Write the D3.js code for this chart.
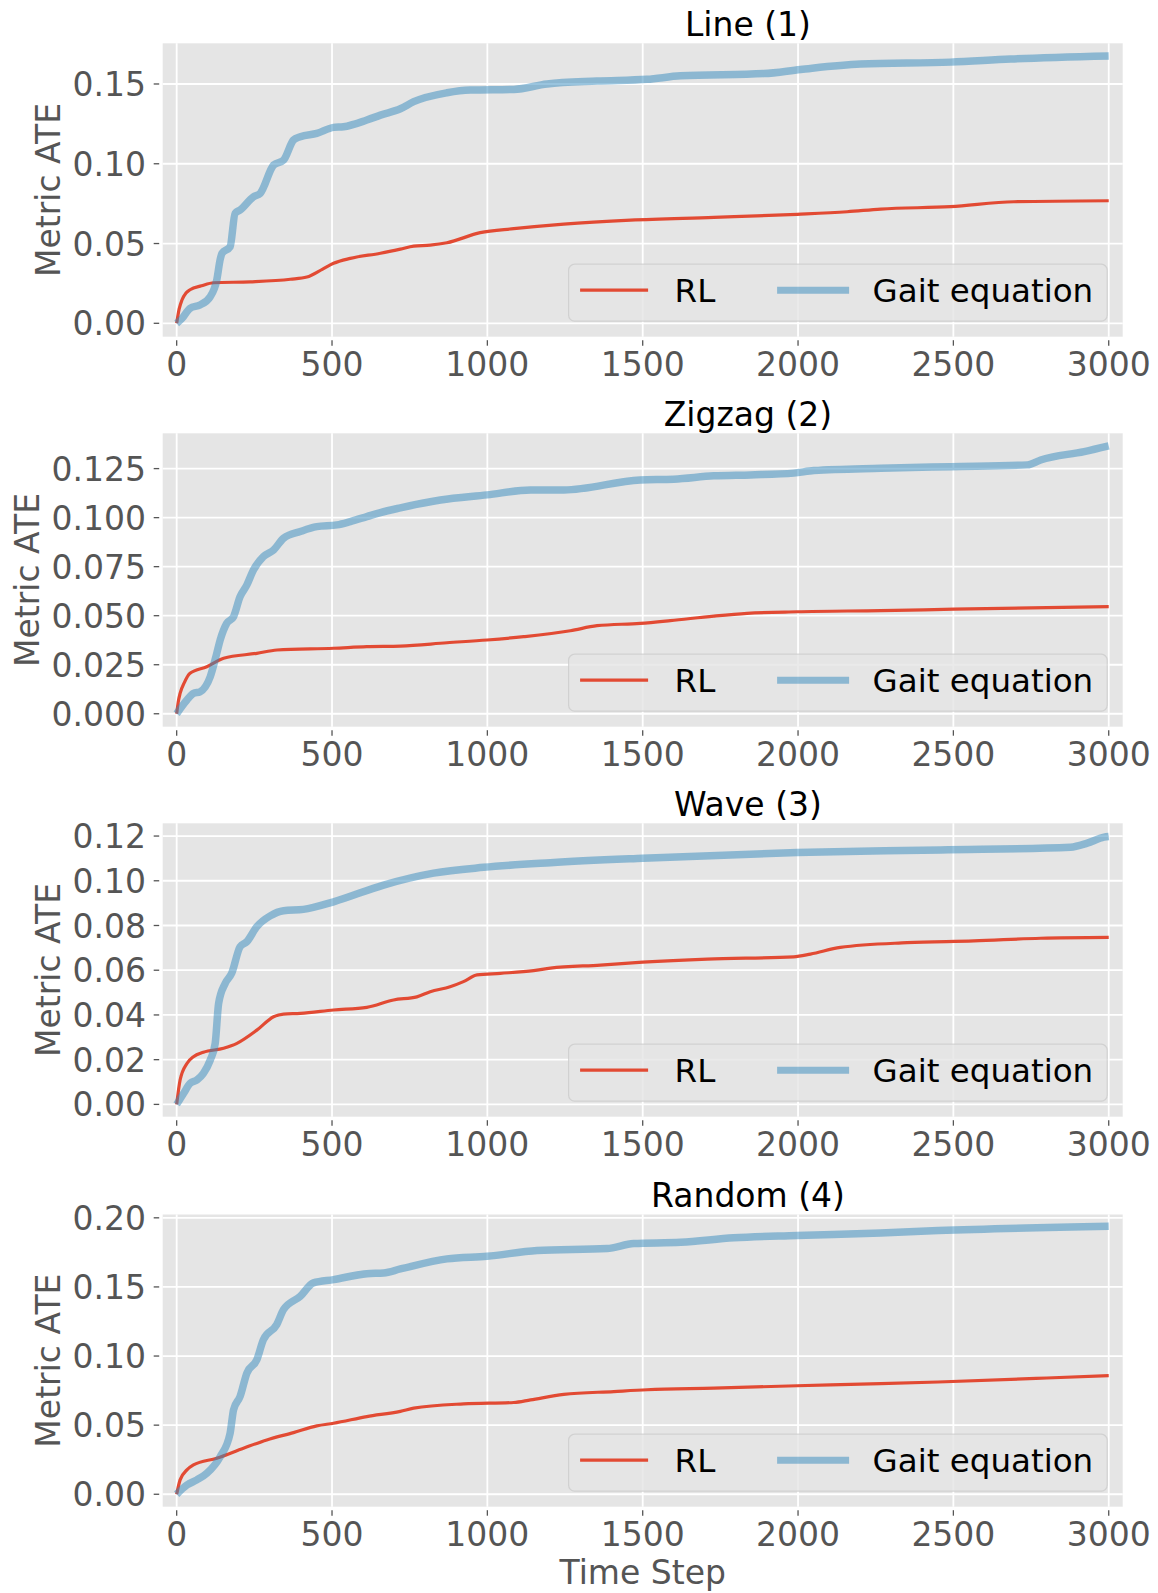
<!DOCTYPE html>
<html>
<head>
<meta charset="utf-8">
<script src="https://cdn.jsdelivr.net/npm/d3@7"></script>
<style>
    body { margin: 0; background: #fff; }
    svg text { font-family: "DejaVu Sans", sans-serif; }
</style>
</head>
<body>
<svg id="chart" width="1158" height="1593"></svg>
<script>

// ---- data ----

var panelTitles = ["Line (1)", "Zigzag (2)", "Wave (3)", "Random (4)"];
var seriesNames = ["RL", "Gait equation"];
var xTicks = [0, 500, 1000, 1500, 2000, 2500, 3000];

var yTicksLine = [0, 0.05, 0.10, 0.15];
var yTicksZigzag = [0, 0.025, 0.05, 0.075, 0.10, 0.125];
var yTicksWave = [0, 0.02, 0.04, 0.06, 0.08, 0.10, 0.12];
var yTicksRandom = [0, 0.05, 0.10, 0.15, 0.20];

// [time step, metric ATE]
var lineRL = [[0,0],[8,0.009],[17,0.0146],[30,0.019],[43,0.021],[80,0.0235],[119,0.0254],[237,0.026],
    [366,0.0276],[419,0.029],[470,0.034],[505,0.0376],[559,0.0407],[656,0.0439],[720,0.0465],[763,0.0484],
    [816,0.049],[870,0.0505],[977,0.0568],[1085,0.0593],[1246,0.0622],[1461,0.0647],[1729,0.0664],
    [1997,0.0683],[2158,0.0699],[2266,0.0716],[2491,0.0731],[2695,0.0762],[3000,0.0768]];
var lineGait = [[0,0],[17,0.003],[43,0.0094],[75,0.0115],[108,0.0167],[129,0.0271],[140,0.04],[146,0.0439],
    [172,0.048],[188,0.0689],[204,0.071],[247,0.0793],[269,0.0815],[312,0.0992],[344,0.1023],[376,0.1149],
    [398,0.117],[451,0.119],[505,0.1228],[537,0.1232],[612,0.1274],[656,0.1305],[720,0.1345],[763,0.1389],
    [870,0.1445],[945,0.1462],[1085,0.1466],[1192,0.15],[1353,0.1518],[1514,0.1529],[1622,0.1551],
    [1890,0.1565],[2008,0.1591],[2201,0.1625],[2491,0.1637],[2684,0.1656],[3000,0.1675]];

var zigzagRL = [[0,0],[5,0.006],[11,0.0104],[25,0.016],[43,0.0206],[97,0.024],[151,0.0283],[258,0.0308],
    [323,0.0325],[505,0.0334],[612,0.0342],[720,0.0345],[870,0.0362],[999,0.0376],[1117,0.0393],
    [1267,0.0423],[1353,0.0449],[1492,0.0461],[1589,0.0475],[1729,0.0498],[1836,0.0512],[1997,0.052],
    [2266,0.0526],[2502,0.0533],[3000,0.0546]];
var zigzagGait = [[0,0],[33,0.007],[54,0.0104],[75,0.0112],[108,0.0189],[129,0.0308],[140,0.0376],
    [161,0.0461],[183,0.0495],[204,0.0597],[226,0.0657],[247,0.0733],[279,0.0801],[312,0.0835],
    [344,0.0895],[398,0.0929],[451,0.0954],[516,0.0963],[559,0.098],[612,0.1005],[656,0.1026],[720,0.105],
    [849,0.109],[999,0.1116],[1139,0.1141],[1246,0.1141],[1492,0.1192],[1600,0.1196],[1729,0.1213],
    [1847,0.1218],[1986,0.1227],[2051,0.124],[2266,0.1252],[2491,0.126],[2738,0.1269],[2781,0.1294],
    [2921,0.1337],[3000,0.1366]];

var waveRL = [[0,0],[11,0.0109],[33,0.0183],[54,0.0213],[86,0.0233],[151,0.0251],[194,0.0273],[258,0.0332],
    [312,0.0392],[344,0.0404],[398,0.0407],[505,0.0422],[612,0.0434],[698,0.0467],[773,0.0481],[816,0.0504],
    [880,0.0526],[923,0.0549],[967,0.0579],[1042,0.0586],[1149,0.0598],[1203,0.0609],[1364,0.0623],
    [1500,0.0636],[1708,0.065],[1986,0.066],[2040,0.0672],[2136,0.0702],[2351,0.0723],[2566,0.0731],
    [2781,0.0743],[3000,0.0747]];
var waveGait = [[0,0],[22,0.0049],[43,0.0094],[65,0.0109],[86,0.0139],[108,0.0198],[124,0.0273],[135,0.0452],
    [156,0.0541],[177,0.0586],[204,0.0705],[226,0.0728],[258,0.0795],[301,0.0843],[344,0.0866],[408,0.0872],
    [505,0.0906],[666,0.0981],[827,0.1034],[988,0.106],[1203,0.1081],[1500,0.1101],[1997,0.1126],
    [2459,0.1138],[2877,0.115],[2931,0.1168],[2985,0.1195],[3000,0.1198]];

var randomRL = [[0,0],[11,0.0104],[33,0.0176],[54,0.0212],[129,0.0261],[215,0.0333],[290,0.0393],[376,0.0446],
    [451,0.0495],[505,0.0514],[612,0.0562],[720,0.06],[763,0.0623],[924,0.0654],[1085,0.0664],[1139,0.0683],
    [1246,0.0722],[1407,0.0743],[1514,0.0756],[1729,0.0768],[1997,0.0785],[2266,0.08],[2451,0.0812],
    [2801,0.0841],[3000,0.0859]];
var randomGait = [[0,0],[33,0.0067],[65,0.0104],[97,0.0152],[140,0.0272],[172,0.0442],[183,0.0611],
    [204,0.0707],[226,0.0877],[258,0.0973],[279,0.1118],[322,0.1227],[344,0.1336],[398,0.1432],[440,0.1529],
    [505,0.1553],[612,0.1596],[666,0.1601],[720,0.163],[870,0.1703],[999,0.1722],[1160,0.1763],[1385,0.1778],
    [1471,0.1814],[1622,0.1823],[1793,0.1855],[1997,0.1872],[2266,0.1891],[2451,0.1908],[3000,0.1939]];

// ---- layout ----

var svg = d3.select("#chart");

var plotLeft = 162.7, plotRight = 1122.7;
var panelTops = [43.3, 433.3, 823.3, 1214.5];
var panelHeights = [293.4, 293.4, 293.4, 292.2];
var yDomains = [[-0.0084, 0.1755], [-0.0066, 0.143], [-0.0055, 0.1257], [-0.009, 0.2024]];
var yFormats = [".2f", ".3f", ".2f", ".2f"];

var colors = {"RL": "#E24A33", "Gait": "#348ABD"};

var panels = [
    {title: panelTitles[0], rl: lineRL, gait: lineGait, yTicks: yTicksLine},
    {title: panelTitles[1], rl: zigzagRL, gait: zigzagGait, yTicks: yTicksZigzag},
    {title: panelTitles[2], rl: waveRL, gait: waveGait, yTicks: yTicksWave},
    {title: panelTitles[3], rl: randomRL, gait: randomGait, yTicks: yTicksRandom}
];

var xScale = d3.scaleLinear()
    .domain([-45, 3045])
    .range([plotLeft, plotRight]);

panels.forEach(function (p, i) {

    var top = panelTops[i];
    var bottom = top + panelHeights[i];

    var yScale = d3.scaleLinear()
        .domain(yDomains[i])
        .range([bottom, top]);

    var g = svg.append("g").attr("class", "panel");

    // background
    g.append("rect")
        .attr("x", plotLeft)
        .attr("y", top)
        .attr("width", plotRight - plotLeft)
        .attr("height", bottom - top)
        .attr("fill", "#E5E5E5");

    // grid
    g.selectAll(".ygrid").data(p.yTicks).enter()
        .append("line")
        .attr("x1", plotLeft).attr("x2", plotRight)
        .attr("y1", function (d) { return yScale(d); })
        .attr("y2", function (d) { return yScale(d); })
        .attr("stroke", "#fff").attr("stroke-width", 1.8);

    g.selectAll(".xgrid").data(xTicks).enter()
        .append("line")
        .attr("y1", top).attr("y2", bottom)
        .attr("x1", function (d) { return xScale(d); })
        .attr("x2", function (d) { return xScale(d); })
        .attr("stroke", "#fff").attr("stroke-width", 1.8);

    // tick marks
    g.selectAll(".ytick").data(p.yTicks).enter()
        .append("line")
        .attr("x1", plotLeft - 9).attr("x2", plotLeft - 3.5)
        .attr("y1", function (d) { return yScale(d); })
        .attr("y2", function (d) { return yScale(d); })
        .attr("stroke", "#555").attr("stroke-width", 1.3);

    g.selectAll(".xtick").data(xTicks).enter()
        .append("line")
        .attr("y1", bottom + 3.5).attr("y2", bottom + 9)
        .attr("x1", function (d) { return xScale(d); })
        .attr("x2", function (d) { return xScale(d); })
        .attr("stroke", "#555").attr("stroke-width", 1.3);

    // tick labels
    var yLabels = g.append("g");
    yLabels.selectAll("text").data(p.yTicks).enter()
        .append("text")
        .attr("x", 146)
        .attr("y", function (d) { return yScale(d); })
        .attr("dy", "0.365em")
        .attr("text-anchor", "end")
        .attr("font-size", 33)
        .attr("fill", "#555")
        .text(function (d) { return d3.format(yFormats[i])(d); });

    g.selectAll(".xlabel").data(xTicks).enter()
        .append("text")
        .attr("x", function (d) { return xScale(d); })
        .attr("y", bottom + 39.5)
        .attr("text-anchor", "middle")
        .attr("font-size", 33)
        .attr("fill", "#555")
        .text(function (d) { return d; });

    // y axis label, placed left of the widest tick label
    var box = yLabels.node().getBBox();
    g.append("text")
        .attr("transform", "translate(" + (box.x - 13) + "," + ((top + bottom) / 2) + ") rotate(-90)")
        .attr("text-anchor", "middle")
        .attr("font-size", 33)
        .attr("fill", "#555")
        .text("Metric ATE");

    // title
    g.append("text")
        .attr("x", 748)
        .attr("y", top - 7.5)
        .attr("text-anchor", "middle")
        .attr("font-size", 33)
        .attr("fill", "#000")
        .text(p.title);

    // series
    var line = d3.line()
        .x(function (d) { return xScale(d[0]); })
        .y(function (d) { return yScale(d[1]); })
        .curve(d3.curveMonotoneX);

    g.append("path")
        .datum(p.rl)
        .attr("d", line)
        .attr("fill", "none")
        .attr("stroke", colors.RL)
        .attr("stroke-width", 3.2)
        .attr("stroke-linejoin", "round");

    g.append("path")
        .datum(p.gait)
        .attr("d", line)
        .attr("fill", "none")
        .attr("stroke", colors.Gait)
        .attr("stroke-opacity", 0.5)
        .attr("stroke-width", 7.5)
        .attr("stroke-linejoin", "round");

    // legend (lower right)
    var lg = g.append("g")
        .attr("transform", "translate(" + (plotRight - 15.5 - 538.6) + "," + (bottom - 15.5 - 57) + ")");

    lg.append("rect")
        .attr("width", 538.6)
        .attr("height", 57)
        .attr("rx", 6).attr("ry", 6)
        .attr("fill", "#E5E5E5").attr("fill-opacity", 0.8)
        .attr("stroke", "#CCCCCC").attr("stroke-opacity", 0.8)
        .attr("stroke-width", 1.2);

    var items = [
        {name: seriesNames[0], color: colors.RL, width: 3.2, opacity: 1, x0: 11.5, x1: 79.5, tx: 106},
        {name: seriesNames[1], color: colors.Gait, width: 7, opacity: 0.5, x0: 208.5, x1: 280.5, tx: 304}
    ];

    items.forEach(function (it) {
        lg.append("line")
            .attr("x1", it.x0).attr("x2", it.x1)
            .attr("y1", 26).attr("y2", 26)
            .attr("stroke", it.color)
            .attr("stroke-opacity", it.opacity)
            .attr("stroke-width", it.width);
        lg.append("text")
            .attr("x", it.tx)
            .attr("y", 37.5)
            .attr("font-size", 32.5)
            .attr("fill", "#000")
            .text(it.name);
    });
});

// x axis label on the bottom panel only
svg.append("text")
    .attr("x", (plotLeft + plotRight) / 2)
    .attr("y", 1584)
    .attr("text-anchor", "middle")
    .attr("font-size", 33)
    .attr("fill", "#555")
    .text("Time Step");

</script>
</body>
</html>
